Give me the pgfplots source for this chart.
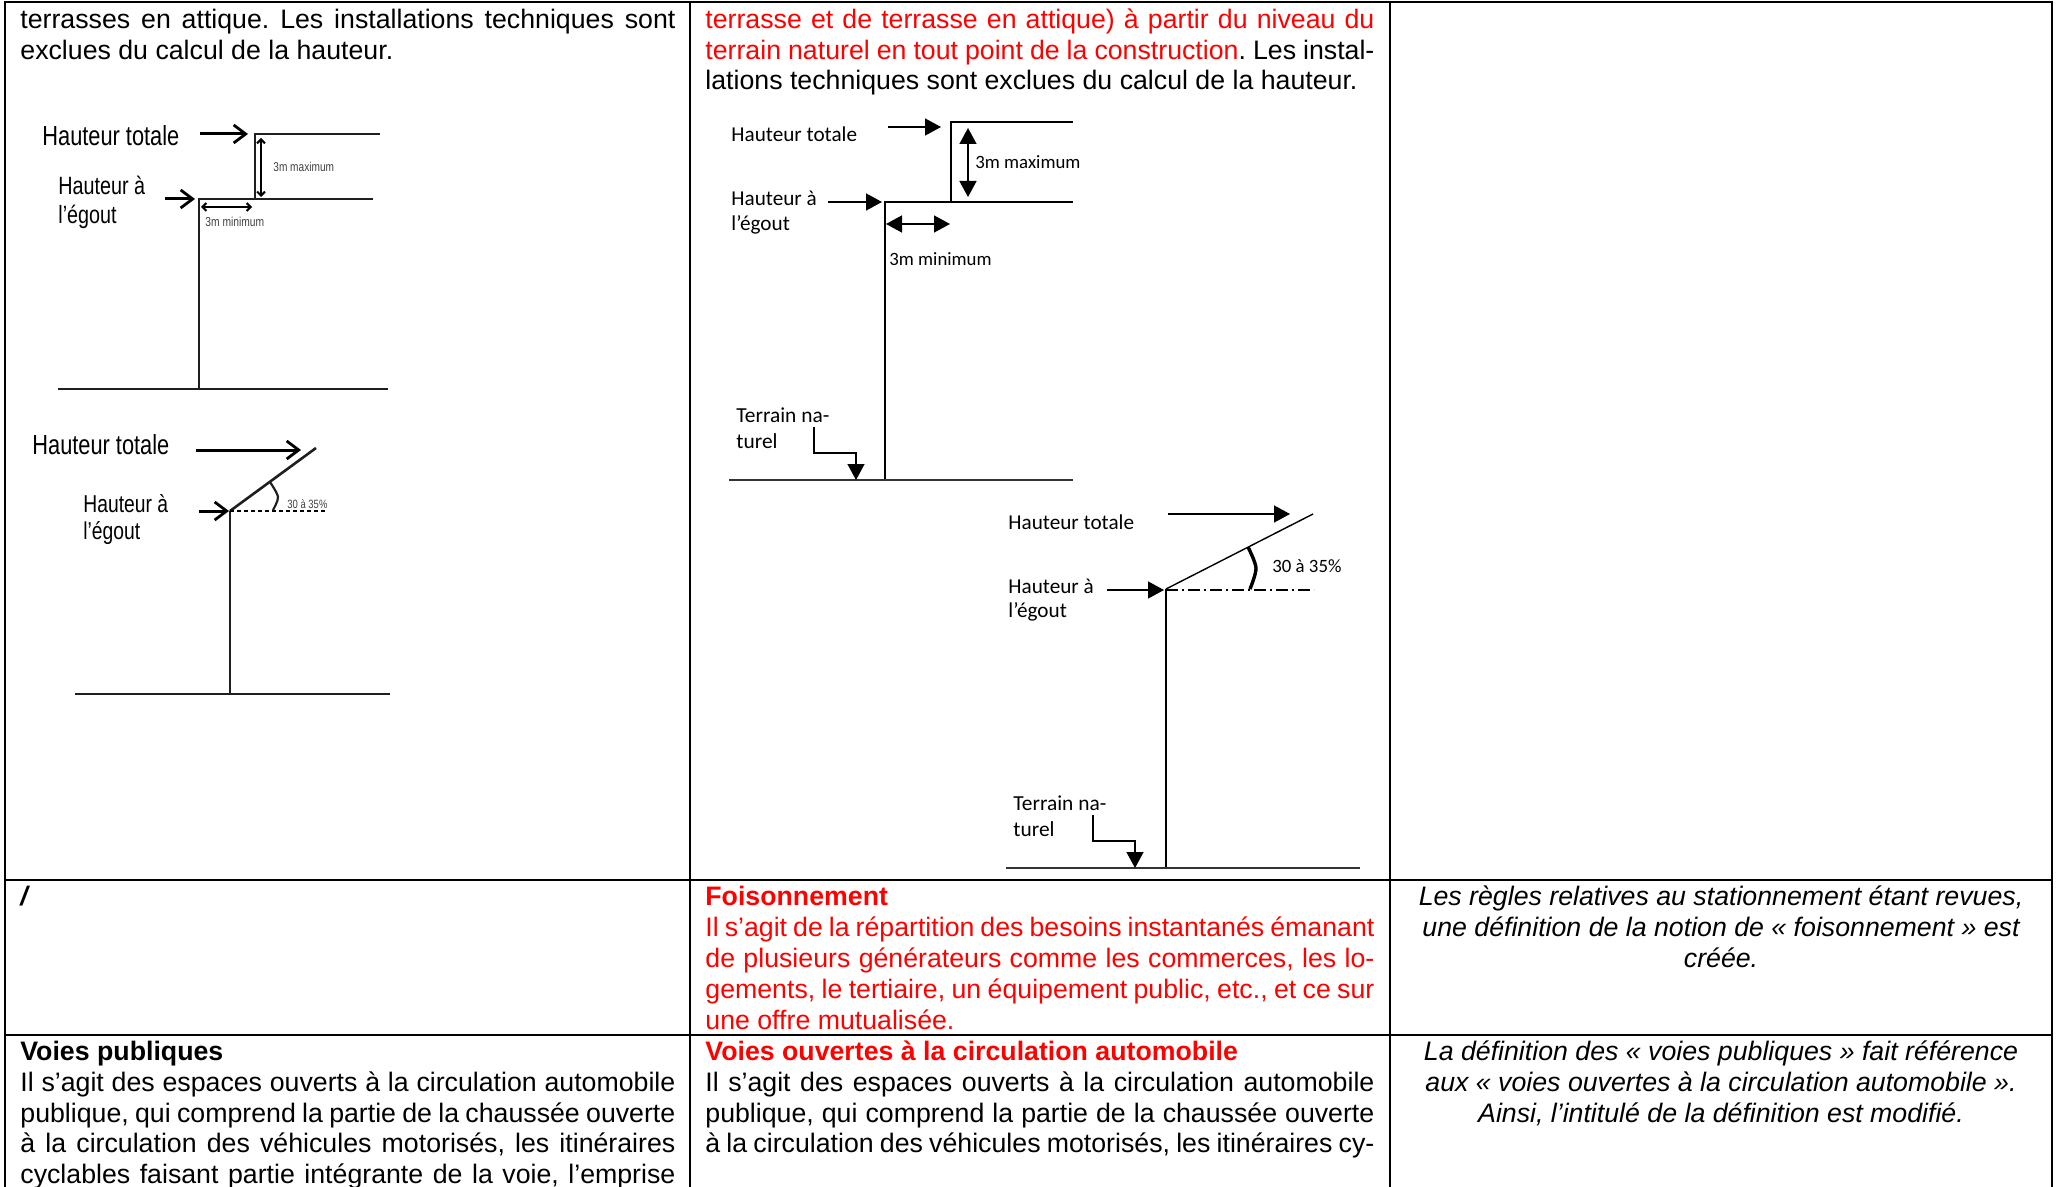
\documentclass[border=0pt]{standalone}
\usepackage{graphicx}
\usepackage{fontspec}
\setmainfont{Liberation Sans}
\newfontfamily\carl{Carlito}
\usepackage{xcolor}
\usepackage{pgfplots}
\pgfplotsset{compat=1.18}
\usetikzlibrary{arrows.meta}
\definecolor{rd}{RGB}{255,0,0}
\frenchspacing
% 1 px of the reference = 0.5pt
\newcommand{\bodyf}{\fontsize{13.36}{15}\selectfont\frenchspacing}
% justified line: x, centre y, width in pt, text
\newcommand{\jl}[4]{\node[anchor=base west,inner sep=0pt] at (axis cs:#1,#2+8) {\bodyf\makebox[#3pt][s]{#4}};}
% natural line: x, y, text
\newcommand{\nl}[3]{\node[anchor=base west,inner sep=0pt] at (axis cs:#1,#2+8) {\bodyf #3};}
% centred italic line
\newcommand{\cl}[2]{\node[anchor=base,inner sep=0pt] at (axis cs:1721,#1+8) {\bodyf\itshape #2};}
% column 1 label: narrowed
\newcommand{\na}[4]{\node[anchor=west,inner sep=0pt] at (axis cs:#1,#2) {\fontsize{#4}{#4}\selectfont\scalebox{0.79}[1]{#3}};}
% column 2 label: x, y, text, size
\newcommand{\cb}[4]{\node[anchor=west,inner sep=0pt] at (axis cs:#1,#2) {\carl\fontsize{#4}{#4}\selectfont #3};}
\begin{document}
\begin{tikzpicture}
\begin{axis}[
  scale only axis, width=1030pt, height=593.5pt,
  xmin=0, xmax=2060, ymin=0, ymax=1187, y dir=reverse,
  hide axis, clip=false, no markers,
  tbl/.style={black, line width=1.2pt, line cap=rect},
  a/.style={black!88, line width=1.1pt},
  b/.style={black, line width=0.7pt},
  oa/.style={black, line width=1.5pt, -{Straight Barb[length=6pt,width=9pt,line width=1.4pt]}},
  sa/.style={black, line width=1pt, {Straight Barb[length=2pt,width=4pt]}-{Straight Barb[length=2pt,width=4pt]}},
  fa/.style={black, line width=0.7pt, -{Triangle[length=8pt,width=8.5pt]}},
  da/.style={black, line width=0.7pt, {Triangle[length=8pt,width=8.5pt]}-{Triangle[length=8pt,width=8.5pt]}},
]
% table rules
\addplot[tbl] coordinates {(5,2) (2052,2)};
\addplot[tbl] coordinates {(5,880) (2052,880)};
\addplot[tbl] coordinates {(5,1035) (2052,1035)};
\addplot[tbl, line width=1pt] coordinates {(5,2) (5,1187)};
\addplot[tbl, line width=1pt] coordinates {(690,2) (690,1187)};
\addplot[tbl, line width=1pt] coordinates {(1390,2) (1390,1187)};
\addplot[tbl, line width=1pt] coordinates {(2052,2) (2052,1187)};

% column 1, diagram A
\addplot[a] coordinates {(380,134) (255,134) (255,199)};
\addplot[a] coordinates {(373,199) (199,199) (199,389)};
\addplot[a, line width=1.2pt] coordinates {(58,389) (388,389)};
\addplot[oa] coordinates {(200,134) (248,134)};
\addplot[oa] coordinates {(165,199) (195,199)};
\addplot[sa] coordinates {(261,138) (261,197)};
\addplot[sa] coordinates {(201,207) (252,207)};
% column 1, diagram B
\addplot[a, line width=1.3pt] coordinates {(230,511) (316,448)};
\addplot[a] coordinates {(230,511) (230,694)};
\addplot[a, line width=1.2pt] coordinates {(75,694) (390,694)};
\addplot[black, line width=1.1pt, dash pattern=on 2pt off 1.5pt] coordinates {(230,511) (325,511)};
\addplot[oa] coordinates {(196,450) (301,450)};
\addplot[oa] coordinates {(199,511) (229,511)};
\addplot[a, smooth] coordinates {(270,482) (278,497) (273,510)};

% column 2, diagram A
\addplot[b] coordinates {(1073,122) (951,122) (951,202)};
\addplot[b] coordinates {(1073,202) (885,202) (885,480)};
\addplot[black!80, line width=1pt] coordinates {(729,480) (1073,480)};
\addplot[fa] coordinates {(888,127) (941,127)};
\addplot[fa] coordinates {(828,202) (882,202)};
\addplot[da] coordinates {(968,128) (968,197)};
\addplot[da] coordinates {(886,224) (950,224)};
\addplot[fa] coordinates {(814,427) (814,453) (856,453) (856,480)};
% column 2, diagram B
\addplot[b] coordinates {(1166,589) (1313,514)};
\addplot[b] coordinates {(1166,589) (1166,868)};
\addplot[black!80, line width=1pt] coordinates {(1006,868) (1360,868)};
\addplot[black, line width=0.6pt, dash pattern=on 6pt off 2pt on 1pt off 2pt] coordinates {(1166,590) (1314,590)};
\addplot[fa] coordinates {(1168,514) (1290,514)};
\addplot[fa] coordinates {(1107,590) (1164,590)};
\addplot[fa] coordinates {(1093,815) (1093,841) (1135,841) (1135,868)};
\addplot[black, line width=1.7pt, smooth] coordinates {(1248,547) (1256,568) (1250,589)};

% text, row 1
\jl{20}{21}{327.5}{terrasses en attique. Les installations techniques sont}
\nl{20}{52}{exclues du calcul de la hauteur.}
\jl{705}{21}{334.5}{\color{rd}terrasse et de terrasse en attique) à partir du niveau du}
\jl{705}{52}{334.5}{{\color{rd}terrain naturel en tout point de la construction}. Les instal-}
\nl{705}{82}{lations techniques sont exclues du calcul de la hauteur.}

% labels, column 1
\na{42}{136}{Hauteur totale}{13.8}
\na{58}{185}{Hauteur à}{12.5}
\na{58}{217}{l’égout}{12.5}
\na{273}{167}{\color{black!75}3m maximum}{6.4}
\na{205}{222}{\color{black!75}3m minimum}{6.5}
\na{32}{445}{Hauteur totale}{13.8}
\na{83}{504}{Hauteur à}{12.2}
\na{83}{533}{l’égout}{12.2}
\na{287}{504}{\color{black!75}30 à 35\%}{6}

% labels, column 2
\cb{731}{134}{Hauteur totale}{10.6}
\cb{731}{198}{Hauteur à}{10.6}
\cb{731}{225}{l’égout}{10.6}
\cb{975}{162}{3m maximum}{9.4}
\cb{889}{259}{3m minimum}{9.4}
\cb{736}{415}{Terrain na-}{10.7}
\cb{736}{441}{turel}{10.7}
\cb{1008}{522}{Hauteur totale}{10.6}
\cb{1008}{586}{Hauteur à}{10.6}
\cb{1008}{612}{l’égout}{10.6}
\cb{1272}{566}{30 à 35\%}{9.4}
\cb{1013}{803}{Terrain na-}{10.7}
\cb{1013}{829}{turel}{10.7}

% row 2
\nl{20}{897}{\bfseries\itshape /}
\nl{705}{897}{\color{rd}\bfseries Foisonnement}
\jl{705}{928}{334.5}{\color{rd}Il s’agit de la répartition des besoins instantanés émanant}
\jl{705}{959}{334.5}{\color{rd}de plusieurs générateurs comme les commerces, les lo-}
\jl{705}{990}{334.5}{\color{rd}gements, le tertiaire, un équipement public, etc., et ce sur}
\nl{705}{1021}{\color{rd}une offre mutualisée.}
\cl{897}{Les règles relatives au stationnement étant revues,}
\cl{928}{une définition de la notion de « foisonnement » est}
\cl{959}{créée.}

% row 3
\nl{20}{1052}{\bfseries Voies publiques}
\jl{20}{1083}{327.5}{Il s’agit des espaces ouverts à la circulation automobile}
\jl{20}{1114}{327.5}{publique, qui comprend la partie de la chaussée ouverte}
\jl{20}{1144}{327.5}{à la circulation des véhicules motorisés, les itinéraires}
\jl{20}{1175}{327.5}{cyclables faisant partie intégrante de la voie, l’emprise}
\nl{705}{1052}{\color{rd}\bfseries Voies ouvertes à la circulation automobile}
\jl{705}{1083}{334.5}{Il s’agit des espaces ouverts à la circulation automobile}
\jl{705}{1114}{334.5}{publique, qui comprend la partie de la chaussée ouverte}
\jl{705}{1144}{334.5}{à la circulation des véhicules motorisés, les itinéraires cy-}
\cl{1052}{La définition des « voies publiques » fait référence}
\cl{1083}{aux « voies ouvertes à la circulation automobile ».}
\cl{1114}{Ainsi, l’intitulé de la définition est modifié.}
\end{axis}
\pgfresetboundingbox
\useasboundingbox (current axis.south west) rectangle (current axis.north east);
\end{tikzpicture}
\end{document}
